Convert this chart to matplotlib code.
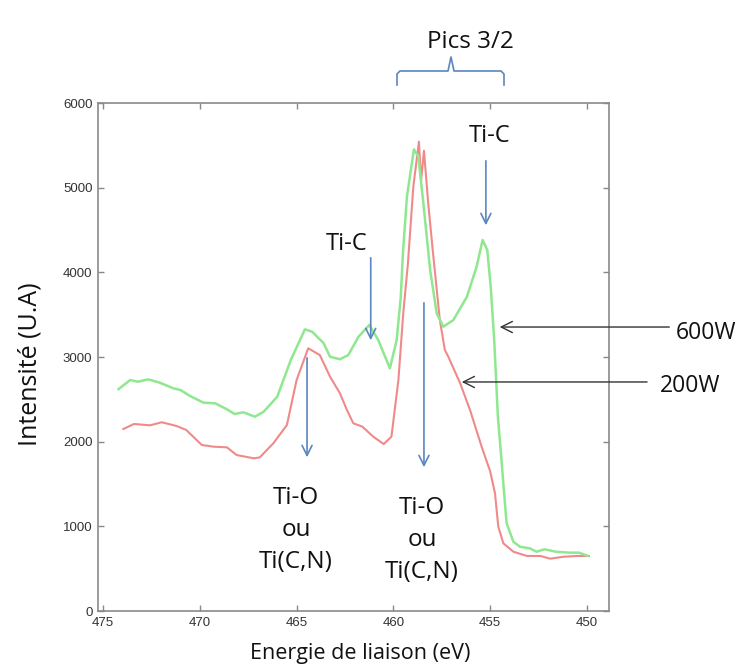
import matplotlib
matplotlib.use("Agg")
import matplotlib.pyplot as plt
import numpy as np

# ---------------- data ----------------
green_x = [474.2, 473.6, 473.2, 472.66, 472.06, 471.37, 471.0, 470.5, 469.8, 469.2,
           468.6, 468.2, 467.75, 467.15, 466.7, 466.0, 465.3, 464.57, 464.2, 463.6,
           463.27, 462.76, 462.33, 461.8, 461.24, 460.78, 460.18, 459.83, 459.62, 459.5,
           459.3, 458.94, 458.71, 458.45, 458.1, 457.76, 457.42, 456.9, 456.2, 455.7,
           455.39, 455.15, 454.97, 454.79, 454.6, 454.42, 454.32, 454.15, 453.8, 453.46,
           452.95, 452.6, 452.2, 451.6, 450.9, 450.4, 449.95]
green_y = [2620, 2728, 2708, 2736, 2696, 2630, 2610, 2539, 2460, 2453,
           2382, 2327, 2347, 2295, 2354, 2531, 2964, 3327, 3299, 3162,
           3003, 2973, 3023, 3240, 3378, 3200, 2866, 3200, 3700, 4250,
           4893, 5453, 5366, 4815, 4027, 3516, 3358, 3437, 3712, 4066,
           4382, 4264, 3830, 3200, 2295, 1800, 1508, 1036, 818, 759,
           740, 700, 729, 700, 689, 689, 650]

red_x = [473.95, 473.4, 472.57, 471.97, 471.2, 470.7, 469.9, 469.3, 468.6, 468.1,
         467.2, 466.9, 466.2, 465.5, 465.0, 464.4, 463.8, 463.27, 462.76, 462.4,
         462.07, 461.6, 461.04, 460.5, 460.1, 459.74, 459.49, 459.25, 458.97, 458.68,
         458.57, 458.42, 458.2, 457.95, 457.6, 457.34, 457.16, 456.55, 456.04, 455.44,
         455.0, 454.75, 454.58, 454.32, 453.8, 453.1, 452.4, 451.9, 451.2, 450.5, 449.9]
red_y = [2150, 2209, 2193, 2229, 2185, 2138, 1961, 1941, 1933, 1842,
         1803, 1815, 1981, 2197, 2728, 3103, 3023, 2767, 2571, 2374,
         2217, 2177, 2059, 1972, 2059, 2728, 3516, 4100, 5011, 5543,
         5080, 5437, 4815, 4224, 3437, 3083, 3003, 2689, 2374, 1941,
         1650, 1390, 996, 800, 700, 650, 650, 618, 641, 650, 650]

x_ticks = [475, 470, 465, 460, 455, 450]
y_ticks = [0, 1000, 2000, 3000, 4000, 5000, 6000]

# ---------------- figure ----------------
W, H = 747, 668
fig = plt.figure(figsize=(W / 100, H / 100), dpi=100)
ax = fig.add_axes([98 / W, 1 - 611 / H, (609 - 98) / W, (611 - 103) / H])

ax.plot(red_x, red_y, color="#f08a8a", lw=1.5, zorder=2)
ax.plot(green_x, green_y, color="#8fe88f", lw=1.8, zorder=3)

ax.set_xlim(475.26, 448.86)
ax.set_ylim(0, 6000)
ax.set_xticks(x_ticks)
ax.set_yticks(y_ticks)
ax.tick_params(direction="in", length=4, width=1, color="#888888",
               top=True, right=True, labelsize=9.5, labelcolor="#333333", pad=4)
for lab in ax.get_xticklabels() + ax.get_yticklabels():
    lab.set_family("Liberation Sans")
for s in ax.spines.values():
    s.set_color("#8a8a8a")
    s.set_linewidth(1.2)

FONT = "Open Sans"
TXT = dict(family=FONT, color="#111111")
BLUE = "#5a86c0"

def fx(px):
    return px / W

def fy(py):
    return 1 - py / H

# axis labels (figure coords)
fig.text(fx(360), fy(653), "Energie de liaison (eV)", ha="center", va="center", fontsize=15.5, **TXT)
fig.text(fx(30), fy(364), "Intensité (U.A)", ha="center", va="center", rotation=90, fontsize=18, **TXT)

# Pics 3/2 and brace
fig.text(fx(470.5), fy(42), "Pics 3/2", ha="center", va="center", fontsize=17.5, **TXT)
bx = [397, 397, 400, 448, 451, 454, 501, 504, 504]
by = [85, 74, 71, 71, 57, 71, 71, 74, 85]
fig.add_artist(plt.Line2D([fx(v) for v in bx], [fy(v) for v in by], color=BLUE, lw=1.2))

arrow_blue = dict(arrowstyle="->", color=BLUE, lw=1.2, mutation_scale=18)
arrow_black = dict(arrowstyle="->", color="#333333", lw=1.0, mutation_scale=20)

# Ti-C (right)
ax.text(455.01, 5610, "Ti-C", ha="center", va="center", fontsize=17, **TXT)
ax.annotate("", xy=(455.22, 4523), xytext=(455.22, 5350), arrowprops=arrow_blue, annotation_clip=False)
# Ti-C (left)
ax.text(462.4, 4334, "Ti-C", ha="center", va="center", fontsize=17, **TXT)
ax.annotate("", xy=(461.17, 3165), xytext=(461.17, 4205), arrowprops=arrow_blue, annotation_clip=False)
# Ti-O left
ax.annotate("", xy=(464.46, 1783), xytext=(464.46, 3023), arrowprops=arrow_blue, annotation_clip=False)
ax.text(465.03, 957, "Ti-O\nou\nTi(C,N)", ha="center", va="center", fontsize=17.5,
        linespacing=1.45, **TXT)
# Ti-O right
ax.annotate("", xy=(458.42, 1665), xytext=(458.42, 3673), arrowprops=arrow_blue, annotation_clip=False)
ax.text(458.52, 839, "Ti-O\nou\nTi(C,N)", ha="center", va="center", fontsize=17.5,
        linespacing=1.45, **TXT)

# 600W / 200W
ax.annotate("", xy=(454.65, 3354), xytext=(445.6, 3354), arrowprops=arrow_black, annotation_clip=False)
ax.text(445.4, 3283, "600W", ha="left", va="center", fontsize=16.5, clip_on=False, **TXT)
ax.annotate("", xy=(456.61, 2705), xytext=(446.75, 2705), arrowprops=arrow_black, annotation_clip=False)
ax.text(446.23, 2657, "200W", ha="left", va="center", fontsize=16.5, clip_on=False, **TXT)

fig.savefig("out.png", dpi=100, facecolor="white")
